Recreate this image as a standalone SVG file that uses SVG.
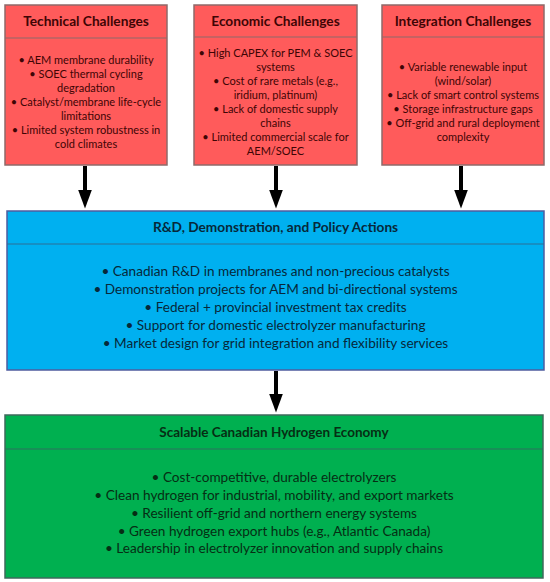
<svg xmlns="http://www.w3.org/2000/svg" width="550" height="582" viewBox="0 0 550 582">
<defs>
<marker id="ah" markerUnits="userSpaceOnUse" markerWidth="19" markerHeight="14" refX="0.5" refY="7" orient="auto" viewBox="0 0 19 14">
<path d="M0,0 L19,7 L0,14 Z" fill="#000"/>
</marker>
<style>
.red{fill:#FF5B5B;stroke:#8E6A6A;stroke-width:1.5}
.redl{stroke:#8E6A6A;stroke-width:1.2}
.blue{fill:#00B0F0;stroke:#4F5C9E;stroke-width:1.5}
.bluel{stroke:#2D6E96;stroke-width:1.2}
.green{fill:#00B050;stroke:#3E6A5C;stroke-width:1.5}
.greenl{stroke:#2E6E5E;stroke-width:1.2}
text{font-family:Lato,"Liberation Sans",sans-serif;text-anchor:middle}
.t{font-weight:bold;font-size:13.7px}
.tb1{font-weight:bold;font-size:13.7px}
.tb2{font-weight:bold;font-size:13.5px}
.s{font-size:11px}
.m{font-size:13.6px}
.rt{fill:#3E0505}
.bt{fill:#07283A}
.gt{fill:#062E14}
.arr{stroke:#000;stroke-width:4;fill:none}
</style>
</defs>
<g id="technical">
<rect class="red" x="5" y="5" width="162" height="160"/>
<line class="redl" x1="5" y1="38" x2="167" y2="38"/>
<text class="t rt" x="86" y="26">Technical Challenges</text>
<g class="s rt">
<text x="86" y="64">• AEM membrane durability</text>
<text x="86" y="78">• SOEC thermal cycling</text>
<text x="86" y="92">degradation</text>
<text x="86" y="106">• Catalyst/membrane life-cycle</text>
<text x="86" y="120">limitations</text>
<text x="86" y="134">• Limited system robustness in</text>
<text x="86" y="148">cold climates</text>
</g>
</g>
<g id="economic">
<rect class="red" x="194" y="5" width="163" height="160"/>
<line class="redl" x1="194" y1="37" x2="357" y2="37"/>
<text class="t rt" x="275.5" y="26">Economic Challenges</text>
<g class="s rt">
<text x="275.5" y="57">• High CAPEX for PEM &amp; SOEC</text>
<text x="275.5" y="71">systems</text>
<text x="275.5" y="85">• Cost of rare metals (e.g.,</text>
<text x="275.5" y="99">iridium, platinum)</text>
<text x="275.5" y="113">• Lack of domestic supply</text>
<text x="275.5" y="127">chains</text>
<text x="275.5" y="141">• Limited commercial scale for</text>
<text x="275.5" y="155">AEM/SOEC</text>
</g>
</g>
<g id="integration">
<rect class="red" x="382" y="5" width="162" height="160"/>
<line class="redl" x1="382" y1="37" x2="544" y2="37"/>
<text class="t rt" x="463" y="26">Integration Challenges</text>
<g class="s rt">
<text x="463" y="71">• Variable renewable input</text>
<text x="463" y="85">(wind/solar)</text>
<text x="463" y="99">• Lack of smart control systems</text>
<text x="463" y="113">• Storage infrastructure gaps</text>
<text x="463" y="127">• Off-grid and rural deployment</text>
<text x="463" y="141">complexity</text>
</g>
</g>
<g id="actions">
<rect class="blue" x="7" y="211" width="537" height="159"/>
<line class="bluel" x1="7" y1="244" x2="544" y2="244"/>
<text class="tb1 bt" x="275.5" y="231.5">R&amp;D, Demonstration, and Policy Actions</text>
<g class="m bt">
<text x="275.5" y="276">• Canadian R&amp;D in membranes and non-precious catalysts</text>
<text x="275.5" y="294">• Demonstration projects for AEM and bi-directional systems</text>
<text x="275.5" y="312">• Federal + provincial investment tax credits</text>
<text x="275.5" y="330">• Support for domestic electrolyzer manufacturing</text>
<text x="275.5" y="348">• Market design for grid integration and flexibility  services</text>
</g>
</g>
<g id="economy">
<rect class="green" x="5" y="415" width="538" height="163"/>
<line class="greenl" x1="5" y1="449" x2="543" y2="449"/>
<text class="tb2 gt" x="274" y="436.5">Scalable Canadian Hydrogen Economy</text>
<g class="m gt">
<text x="274" y="482">• Cost-competitive, durable electrolyzers</text>
<text x="274" y="500">• Clean hydrogen for industrial, mobility, and export markets</text>
<text x="274" y="518">• Resilient off-grid and northern energy systems</text>
<text x="274" y="536">• Green hydrogen export hubs (e.g., Atlantic Canada)</text>
<text x="274" y="553">• Leadership in electrolyzer innovation and supply chains</text>
</g>
</g>
<g id="connectors">
<line class="arr" x1="85" y1="166" x2="85" y2="190" marker-end="url(#ah)"/>
<line class="arr" x1="276" y1="166" x2="276" y2="190" marker-end="url(#ah)"/>
<line class="arr" x1="461" y1="166" x2="461" y2="190" marker-end="url(#ah)"/>
<line class="arr" x1="276" y1="371" x2="276" y2="394" marker-end="url(#ah)"/>
</g>
</svg>
